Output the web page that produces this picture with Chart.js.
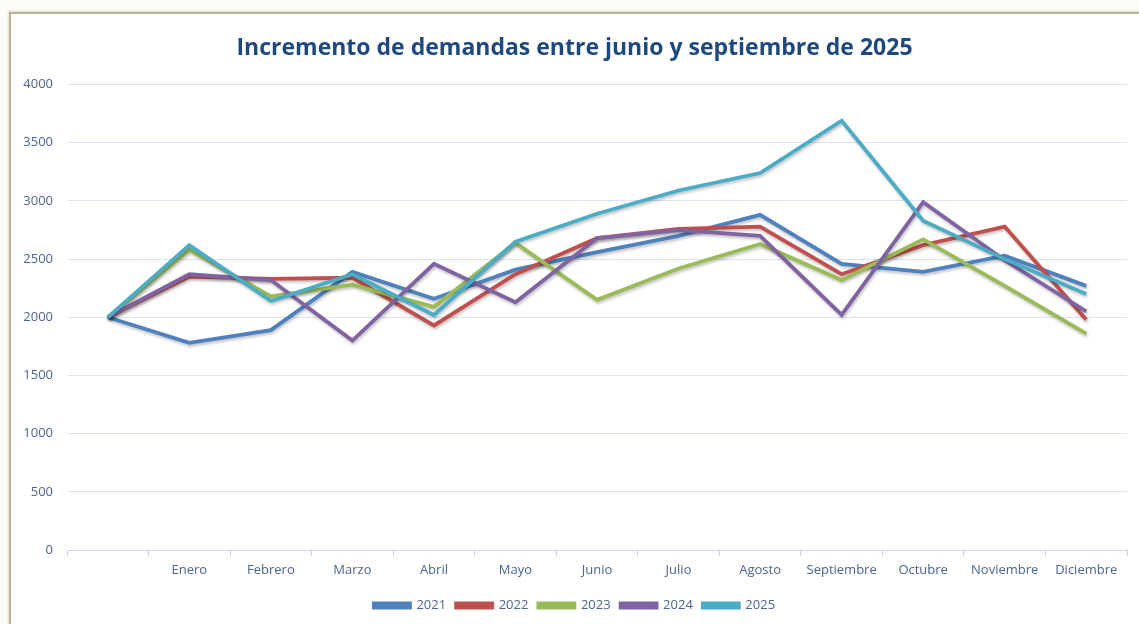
<html>
<head>
    <script src="https://cdn.jsdelivr.net/npm/chart.js"></script>
    <style>
        body { margin: 0; background: #fdfdf8; overflow: hidden; }
        #frame { position: absolute; left: 9px; top: 12px; width: 1200px; height: 700px;
                 background: #fff; border-left: 2px solid #bbb393; border-top: 2px solid #bbb393;
                 box-shadow: -1px -1px 2px rgba(180,170,130,0.4); }
        #myChart { position: absolute; left: 0; top: 0; }
    </style>
</head>
<body>
    <div id="frame"></div>
    <canvas id="myChart" width="1139" height="624"></canvas>
    <script>
        const months = ['', 'Enero', 'Febrero', 'Marzo', 'Abril', 'Mayo', 'Junio', 'Julio', 'Agosto', 'Septiembre', 'Octubre', 'Noviembre', 'Diciembre']
        const years = ['2021', '2022', '2023', '2024', '2025']
        const d2021 = [2000, 1780, 1890, 2390, 2160, 2410, 2560, 2700, 2880, 2460, 2390, 2530, 2270]
        const d2022 = [2000, 2350, 2330, 2340, 1930, 2370, 2680, 2760, 2780, 2370, 2620, 2780, 1980]
        const d2023 = [2000, 2580, 2180, 2280, 2090, 2640, 2150, 2420, 2630, 2320, 2670, 2270, 1860]
        const d2024 = [2000, 2370, 2320, 1800, 2460, 2130, 2680, 2750, 2700, 2020, 2990, 2490, 2050]
        const d2025 = [2000, 2620, 2140, 2370, 2020, 2650, 2890, 3090, 3240, 3690, 2830, 2500, 2200]
        const colors = ['#4f81bd', '#c0504d', '#9bbb59', '#8064a2', '#4bacc6']

        const series = [d2021, d2022, d2023, d2024, d2025]
        const tickColor = '#4d648d'

        // soft shadow under the lines, like the original
        const lineShadow = {
            id: 'lineShadow',
            beforeDatasetsDraw(chart) {
                const c = chart.ctx
                c.save()
                c.shadowColor = 'rgba(0,0,0,0.25)'
                c.shadowBlur = 3
                c.shadowOffsetX = 1
                c.shadowOffsetY = 2
            },
            afterDatasetsDraw(chart) {
                chart.ctx.restore()
            }
        }

        const ctx = document.getElementById('myChart')
        const myChart = new Chart(ctx, {
            type: 'line',
            data: {
                labels: months,
                datasets: series.map((d, i) => ({
                    label: years[i],
                    data: d,
                    borderColor: colors[i],
                    backgroundColor: colors[i],
                    borderWidth: 3.8,
                    pointRadius: 0,
                    tension: 0,
                    order: series.length - i   // 2025 drawn on top
                }))
            },
            options: {
                responsive: false,
                animation: false,
                layout: { padding: { left: 22, right: 12, top: 0, bottom: 2 } },
                plugins: {
                    title: {
                        display: true,
                        text: 'Incremento de demandas entre junio y septiembre de 2025',
                        color: '#1f497d',
                        font: { family: 'Open Sans', size: 23, weight: 'bold' },
                        padding: { top: 35, bottom: 22 }
                    },
                    legend: {
                        position: 'bottom',
                        labels: {
                            boxWidth: 36,
                            boxHeight: 4,
                            color: tickColor,
                            font: { family: 'Open Sans', size: 13 },
                            padding: 10,
                            sort: (a, b) => a.datasetIndex - b.datasetIndex
                        }
                    },
                    tooltip: { enabled: false }
                },
                scales: {
                    x: {
                        offset: true,
                        grid: { offset: true, drawOnChartArea: false, drawTicks: true, tickLength: 6, color: '#c9d5e6' },
                        border: { color: '#c9d5e6' },
                        ticks: { color: tickColor, font: { family: 'Open Sans', size: 13 }, padding: 6, maxRotation: 0, autoSkip: false },
                        afterFit: (s) => { s.height = 39 }
                    },
                    y: {
                        min: 0,
                        max: 4000,
                        ticks: { stepSize: 500, color: tickColor, font: { family: 'Open Sans', size: 13 }, padding: 14,
                                 callback: (v) => String(v) },
                        grid: { color: '#d9e4f2', drawTicks: false },
                        border: { display: false },
                        afterFit: (s) => { s.width = 45 }
                    }
                }
            },
            plugins: [lineShadow]
        })
    </script>
</body>
</html>
